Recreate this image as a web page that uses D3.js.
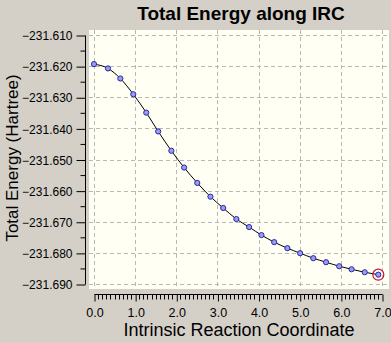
<!DOCTYPE html>
<html>
<head>
<meta charset="utf-8">
<script src="https://cdn.jsdelivr.net/npm/d3@7"></script>
<style>
html,body{margin:0;padding:0;background:#d4d0c8;}
svg{display:block;}
text{font-family:"Liberation Sans",Arial,sans-serif;fill:#000;}
</style>
</head>
<body>
<svg id="chart" width="391" height="343"></svg>
<script>
const title = "Total Energy along IRC";
const xLabel = "Intrinsic Reaction Coordinate";
const yLabel = "Total Energy (Hartree)";
const xTicks = [0,1,2,3,4,5,6,7];
const yTicks = [-231.610,-231.620,-231.630,-231.640,-231.650,-231.660,-231.670,-231.680,-231.690];
const ircX = [0.00,0.34,0.64,0.955,1.27,1.56,1.88,2.19,2.51,2.83,3.14,3.46,3.77,4.07,4.38,4.70,5.01,5.33,5.64,5.96,6.26,6.58,6.91];
const energy = [-231.61935,-231.62074,-231.62397,-231.62903,-231.63494,-231.64097,-231.64719,-231.65258,-231.65752,-231.66194,-231.66558,-231.66913,-231.67171,-231.67429,-231.67655,-231.67848,-231.68010,-231.68171,-231.68300,-231.68429,-231.68526,-231.68623,-231.68700];

const svg = d3.select("#chart");
const x = d3.scaleLinear().domain([0,7]).range([94,382]);
const y = d3.scaleLinear().domain([-231.690,-231.610]).range([284,35]);

// plot background
svg.append("rect").attr("x",89).attr("y",30).attr("width",300).attr("height",259).attr("fill","#fffff4");

// gridlines
const grid = svg.append("g").attr("stroke","#b8b8b8").attr("stroke-dasharray","4,3").attr("stroke-width",1);
xTicks.forEach(t=>grid.append("line").attr("x1",Math.round(x(t))+0.5).attr("x2",Math.round(x(t))+0.5).attr("y1",30).attr("y2",289));
yTicks.forEach(t=>grid.append("line").attr("y1",Math.round(y(t))+0.5).attr("y2",Math.round(y(t))+0.5).attr("x1",89).attr("x2",389));

// y axis
const yAxis = d3.axisLeft(y).tickValues(yTicks).tickFormat(d3.format(".3f")).tickSize(9).tickPadding(4);
const ya = svg.append("g").attr("transform","translate(85.5,0.5)").call(yAxis);
ya.select(".domain").attr("d","M0,"+y(-231.610)+"V"+y(-231.690)).attr("stroke","#000");
ya.selectAll("text").style("font-size","12px").attr("dy","0.35em");
const yMinor = d3.range(0,8).map(i=>yTicks[i]-0.005);
ya.selectAll(".minor").data(yMinor).enter().append("line").attr("class","minor")
  .attr("x1",-5).attr("x2",0).attr("y1",d=>y(d)).attr("y2",d=>y(d)).attr("stroke","#000");

// x ruler axis
const xAxis = d3.axisBottom(x).tickValues(xTicks).tickFormat(d3.format(".1f")).tickSize(7).tickPadding(7);
const xa = svg.append("g").attr("transform","translate(0.5,294.5)").call(xAxis);
xa.select(".domain").attr("d","M"+x(0)+",0H"+x(7)).attr("stroke","#000");
xa.selectAll("text").style("font-size","12.5px");
const xMinor = d3.range(0,71).map(i=>i/10).filter(v=>Math.abs(v-Math.round(v))>1e-6);
xa.selectAll(".minor").data(xMinor).enter().append("line").attr("class","minor")
  .attr("x1",d=>Math.round(x(d))).attr("x2",d=>Math.round(x(d))).attr("y1",0).attr("y2",5).attr("stroke","#000");

// line
const pts = ircX.map((v,i)=>[v,energy[i]]);
svg.append("path").datum(pts)
  .attr("d",d3.line().x(d=>x(d[0])).y(d=>y(d[1])).curve(d3.curveMonotoneX))
  .attr("fill","none").attr("stroke","#000").attr("stroke-width",1);

svg.append("g").selectAll("circle").data(pts).enter().append("circle")
  .attr("cx",d=>x(d[0])).attr("cy",d=>y(d[1])).attr("r",2.6)
  .attr("fill","#9a9cf2").attr("stroke","#2a2aa0").attr("stroke-width",1);

// highlight last
const last = pts[pts.length-1];
svg.append("circle").attr("cx",x(last[0])).attr("cy",y(last[1])).attr("r",5.5)
  .attr("fill","none").attr("stroke","#d01030").attr("stroke-width",1.2);

// titles
svg.append("text").attr("x",241).attr("y",20).attr("text-anchor","middle")
  .style("font-size","19px").style("font-weight","bold").text(title);
svg.append("text").attr("x",239).attr("y",336).attr("text-anchor","middle")
  .style("font-size","18px").text(xLabel);
svg.append("text").attr("transform","translate(18,158) rotate(-90)").attr("text-anchor","middle")
  .style("font-size","17px").text(yLabel);
</script>
</body>
</html>
